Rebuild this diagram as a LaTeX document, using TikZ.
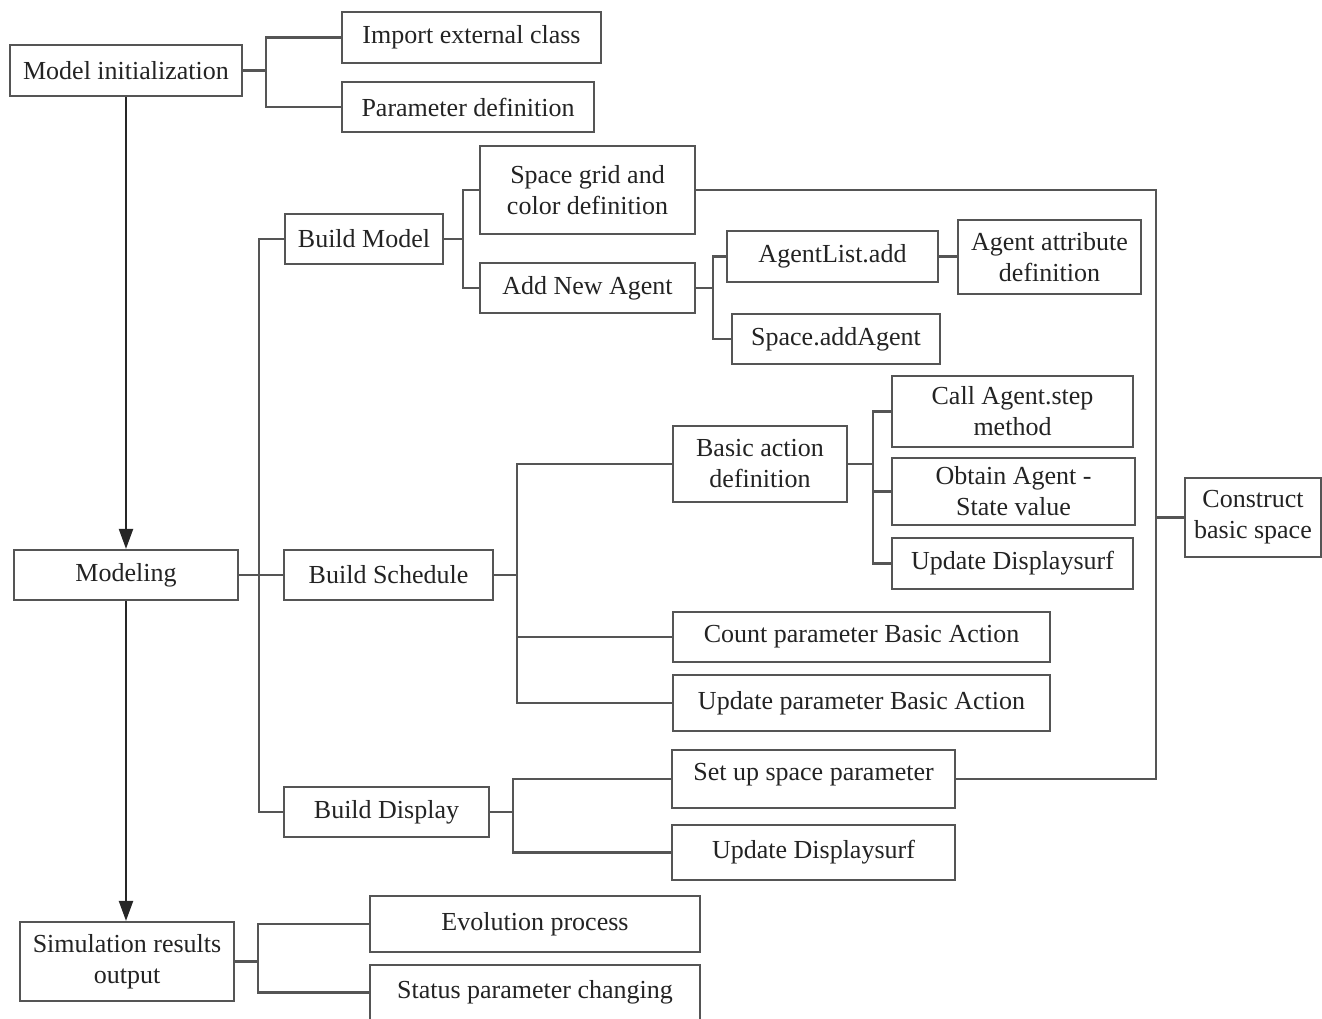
\documentclass[tikz,border=0pt]{standalone}
\usepackage{fontspec}
\setmainfont{Liberation Serif}
\usetikzlibrary{arrows.meta}
\definecolor{ln}{RGB}{85,85,85}
\definecolor{tx}{RGB}{35,35,35}
\begin{document}
\begin{tikzpicture}[x=1pt,y=-1pt,
  box/.style={draw=ln, line width=2.2pt, inner sep=0pt, align=center, text=tx,
    font=\fontsize{26}{31}\selectfont},
  wire/.style={draw=ln, line width=2.2pt},
  arr/.style={draw=black!85, line width=2.2pt, -{Triangle[length=20pt,width=14pt]}}]
\useasboundingbox (0,0) rectangle (1322,1019);
% nodes
\node[box, minimum width=232, minimum height=51] (mi)  at (126,70.5)   {Model initialization};
\node[box, minimum width=259, minimum height=51] (iec) at (471.5,37.5) {Import external class};
\node[box, minimum width=252, minimum height=50] (pd)  at (468,107)    {Parameter definition};
\node[box, minimum width=215, minimum height=88] (sg)  at (587.5,190)  {Space grid and\\color definition};
\node[box, minimum width=158, minimum height=50] (bm)  at (364,239)    {Build Model};
\node[box, minimum width=215, minimum height=50] (ana) at (587.5,288)  {Add New Agent};
\node[box, minimum width=211, minimum height=51] (al)  at (832.5,256.5){AgentList.add};
\node[box, minimum width=183, minimum height=74] (aad) at (1049.5,257) {Agent attribute\\definition};
\node[box, minimum width=208, minimum height=50] (sa)  at (836,339)    {Space.addAgent};
\node[box, minimum width=136, minimum height=79] (cbs) at (1253,517.5) {Construct\\basic space};
\node[box, minimum width=174, minimum height=76] (bad) at (760,464)    {Basic action\\definition};
\node[box, minimum width=241, minimum height=71] (cas) at (1012.5,411.5){Call Agent.step\\method};
\node[box, minimum width=243, minimum height=67] (oas) at (1013.5,491.5){Obtain Agent -\\State value};
\node[box, minimum width=241, minimum height=51] (ud1) at (1012.5,563.5){Update Displaysurf};
\node[box, minimum width=224, minimum height=50] (mod) at (126,575)    {Modeling};
\node[box, minimum width=209, minimum height=50] (bs)  at (388.5,575)  {Build Schedule};
\node[box, minimum width=377, minimum height=50] (cp)  at (861.5,637)  {Count parameter Basic Action};
\node[box, minimum width=377, minimum height=56] (up)  at (861.5,703)  {Update parameter Basic Action};
\node[box, minimum width=205, minimum height=50] (bd)  at (386.5,812)  {Build Display};
\node[box, minimum width=283, minimum height=58, text depth=14pt] (ssp) at (813.5,779) {Set up space parameter};
\node[box, minimum width=283, minimum height=55] (ud2) at (813.5,852.5){Update Displaysurf};
\node[box, minimum width=214, minimum height=79] (sro) at (127,961.5)  {Simulation results\\output};
\node[box, minimum width=330, minimum height=56] (ep)  at (535,924)    {Evolution process};
\node[box, minimum width=330, minimum height=55] (spc) at (535,992.5)  {Status parameter changing};
% connectors
\draw[wire] (mi.east) -- ++(23,0) coordinate (j1);
\draw[wire] (iec.west) -| (j1) |- (pd.west);
\draw[wire] (bm.east) -- ++(19,0) coordinate (j2);
\draw[wire] (sg.west) -| (j2) |- (ana.west);
\draw[wire] (ana.east) -- ++(17,0) coordinate (j3);
\draw[wire] (al.west) -| (j3) |- (sa.west);
\draw[wire] (al.east) -- (al.east -| aad.west);
\draw[wire] (sg.east) -- ++(460,0) coordinate (r1) |- (ssp.east);
\draw[wire] (cbs.west) -- (cbs.west -| r1);
\draw[wire] (mod.east) -- (bs.west);
\draw[wire] (bm.west) -- ++(-25,0) coordinate (j4) |- (bd.west);
\draw[wire] (bs.east) -- ++(23,0) coordinate (j5);
\draw[wire] (bad.west) -| (j5) |- (up.west);
\draw[wire] (cp.west) -- (cp.west -| j5);
\draw[wire] (bad.east) -- ++(25,0) coordinate (j6);
\draw[wire] (cas.west) -| (j6) |- (ud1.west);
\draw[wire] (oas.west) -- (oas.west -| j6);
\draw[wire] (bd.east) -- ++(23,0) coordinate (j7);
\draw[wire] (ssp.west) -| (j7) |- (ud2.west);
\draw[wire] (sro.east) -- ++(23,0) coordinate (j8);
\draw[wire] (ep.west) -| (j8) |- (spc.west);
\draw[arr] (mi.south) -- (mod.north);
\draw[arr] (mod.south) -- (mod.south |- sro.north);
\end{tikzpicture}
\end{document}
